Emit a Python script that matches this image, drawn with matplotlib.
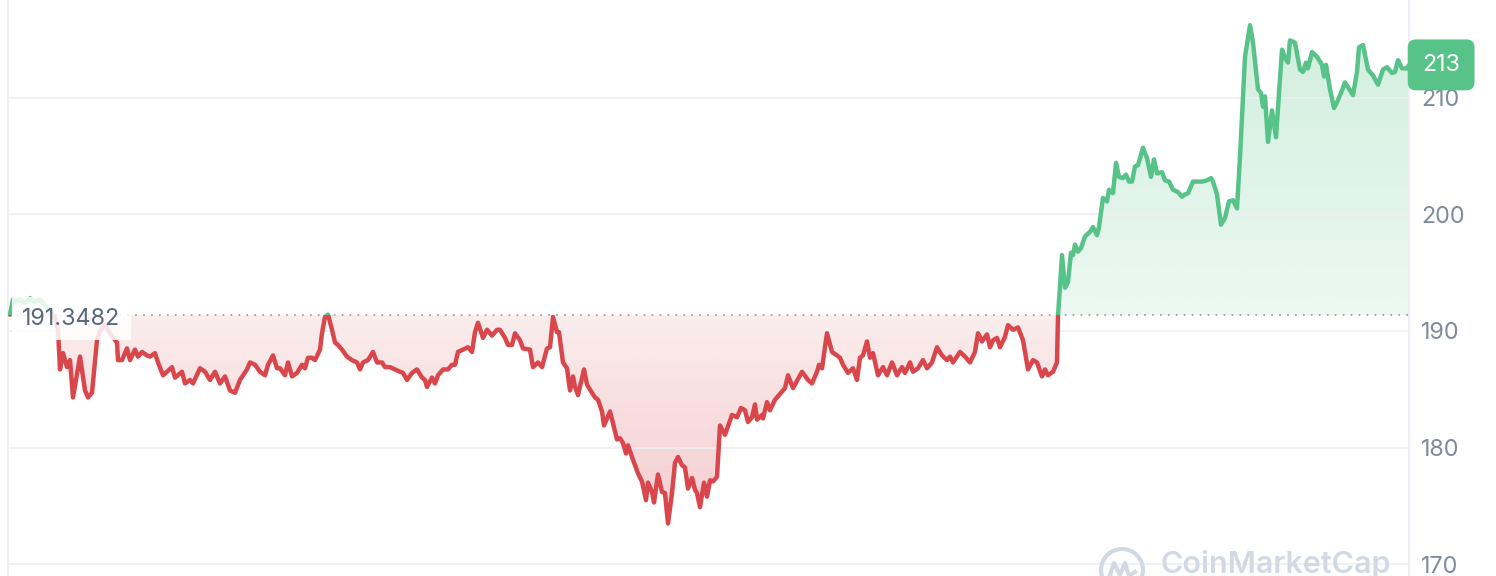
import numpy as np
import matplotlib.pyplot as plt
from matplotlib.patches import Rectangle, Circle
from matplotlib.path import Path
from matplotlib.colors import to_rgb

plt.rcParams['font.family'] = ['Inter', 'DejaVu Sans']

# minutes since start of the day, price in USD
minutes = [0, 3, 5, 10, 15, 20, 25, 30, 35, 40, 45, 48, 50, 53, 57, 60, 63, 70, 75, 78,
           82, 87, 90, 95, 100, 107, 108, 112, 117, 120, 125, 128, 132, 137, 140, 145, 148, 153, 157, 162,
           165, 172, 175, 180, 183, 190, 195, 200, 205, 210, 215, 220, 225, 230, 237, 240, 245, 250, 255, 258,
           263, 267, 270, 275, 278, 282, 287, 292, 295, 298, 302, 305, 310, 312, 315, 318, 322, 325, 328, 332,
           337, 342, 347, 350, 353, 358, 363, 367, 372, 375, 380, 385, 390, 393, 397, 402, 407, 412, 415, 417,
           422, 425, 428, 433, 438, 442, 445, 448, 453, 458, 462, 465, 468, 473, 477, 482, 487, 490, 495, 498,
           502, 505, 510, 513, 520, 523, 528, 532, 537, 540, 543, 547, 549, 553, 557, 560, 563, 565, 568, 574,
           577, 582, 585, 588, 592, 594, 600, 603, 607, 610, 613, 616, 618, 622, 625, 628, 632, 636, 638, 642,
           644, 648, 652, 655, 658, 662, 665, 668, 672, 675, 678, 682, 685, 687, 690, 694, 697, 700, 703, 707,
           710, 715, 722, 727, 731, 735, 738, 742, 745, 747, 752, 753, 757, 760, 765, 772, 775, 778, 783, 792,
           798, 802, 807, 809, 812, 817, 822, 827, 830, 833, 838, 843, 847, 850, 853, 857, 860, 863, 868, 873,
           877, 882, 887, 892, 895, 900, 903, 908, 913, 917, 922, 927, 932, 937, 940, 943, 950, 955, 960, 965,
           968, 972, 977, 980, 983, 987, 990, 995, 998, 1003, 1008, 1013, 1018, 1023, 1027, 1032, 1035, 1038, 1043, 1047,
           1048, 1050, 1052, 1055, 1058, 1061, 1063, 1065, 1068, 1071, 1075, 1080, 1083, 1087, 1089, 1093, 1097, 1099, 1103, 1106,
           1109, 1113, 1116, 1119, 1122, 1125, 1128, 1133, 1137, 1141, 1144, 1147, 1152, 1155, 1159, 1163, 1168, 1172, 1175, 1178,
           1183, 1187, 1192, 1197, 1201, 1203, 1207, 1211, 1215, 1219, 1223, 1227, 1229, 1230, 1235, 1240, 1243, 1248, 1251, 1253,
           1255, 1258, 1262, 1266, 1272, 1275, 1278, 1280, 1285, 1290, 1293, 1296, 1298, 1302, 1307, 1312, 1314, 1316, 1320, 1324,
           1327, 1331, 1335, 1338, 1343, 1347, 1349, 1353, 1358, 1363, 1368, 1373, 1377, 1382, 1385, 1388, 1392, 1397, 1399]
price = [191.4, 192.7, 192.5, 192.7, 192.4, 192.8, 192.5, 192.7, 192.2, 191.8, 191.1, 190.1, 186.7, 188.1, 186.9, 187.5, 184.3, 187.8, 184.9, 184.3,
         184.7, 189.2, 190.0, 190.5, 189.8, 189.0, 187.5, 187.5, 188.5, 187.5, 188.4, 187.8, 188.2, 187.9, 187.8, 188.1, 187.3, 186.2, 186.5, 186.9,
         186.0, 186.5, 185.5, 185.8, 185.5, 186.8, 186.5, 185.8, 186.5, 185.5, 186.1, 184.9, 184.7, 185.8, 186.7, 187.3, 187.1, 186.5, 186.2, 187.1,
         187.9, 186.8, 186.8, 186.2, 187.3, 186.1, 186.4, 187.1, 186.8, 187.7, 187.7, 187.5, 188.4, 189.8, 191.2, 191.4, 190.1, 189.0, 188.8, 188.4,
         187.8, 187.5, 187.3, 186.7, 187.3, 187.5, 188.2, 187.3, 187.3, 186.9, 186.9, 186.7, 186.5, 186.4, 185.8, 186.4, 186.7, 186.0, 185.8, 185.2,
         186.0, 185.5, 186.2, 186.7, 186.7, 187.1, 187.1, 188.2, 188.4, 188.6, 188.2, 189.9, 190.7, 189.4, 190.1, 189.6, 190.1, 190.1, 189.4, 188.8,
         188.8, 189.8, 189.2, 188.5, 188.4, 186.9, 187.3, 186.9, 188.5, 188.6, 191.2, 189.9, 189.9, 187.3, 186.8, 184.9, 186.1, 185.2, 184.5, 186.7,
         185.4, 184.7, 184.3, 184.1, 183.1, 181.9, 183.1, 182.1, 180.7, 180.8, 180.4, 179.5, 180.2, 179.2, 178.5, 177.8, 177.1, 175.5, 177.0, 176.2,
         175.3, 177.7, 176.2, 176.1, 173.5, 176.1, 178.7, 179.2, 178.5, 178.3, 176.5, 177.4, 176.4, 176.1, 174.9, 177.0, 175.8, 177.2, 177.1, 177.5,
         181.9, 181.1, 182.8, 182.6, 183.4, 183.2, 182.2, 182.6, 183.7, 182.4, 182.8, 182.5, 183.9, 183.2, 184.1, 184.8, 185.1, 186.2, 185.1, 186.5,
         185.8, 185.5, 186.5, 187.1, 186.8, 189.8, 188.2, 187.9, 187.7, 187.1, 186.4, 186.8, 185.8, 187.7, 187.9, 189.1, 187.7, 188.1, 186.2, 186.9,
         186.2, 187.3, 186.2, 186.9, 186.4, 187.3, 186.5, 186.8, 187.5, 186.8, 187.3, 188.6, 187.9, 187.5, 187.8, 187.3, 188.2, 187.8, 187.3, 188.2,
         189.8, 189.1, 189.7, 188.6, 189.2, 189.4, 188.6, 189.5, 190.5, 190.1, 190.3, 189.2, 186.7, 187.5, 187.3, 186.1, 186.7, 186.2, 186.5, 187.3,
         191.3, 193.8, 196.5, 193.7, 194.2, 196.7, 196.5, 197.4, 196.8, 197.1, 198.1, 198.5, 198.9, 198.2, 198.9, 201.4, 201.1, 202.1, 201.8, 204.4,
         203.2, 203.1, 203.4, 202.8, 202.8, 204.1, 204.2, 205.7, 204.8, 203.2, 204.7, 203.5, 203.6, 202.9, 202.8, 202.1, 201.9, 201.5, 201.7, 201.8,
         202.8, 202.8, 202.8, 202.9, 203.1, 202.8, 201.7, 199.1, 199.7, 201.1, 201.2, 200.5, 203.5, 204.9, 213.5, 216.2, 214.7, 210.7, 210.4, 209.2,
         210.1, 206.2, 208.9, 206.6, 214.1, 213.4, 213.0, 214.9, 214.7, 212.4, 212.2, 213.0, 212.5, 213.9, 213.5, 212.8, 211.8, 212.8, 210.7, 209.1,
         209.6, 210.4, 211.3, 210.9, 210.2, 212.2, 214.3, 214.5, 212.4, 211.9, 211.1, 212.4, 212.6, 212.1, 212.2, 213.2, 212.5, 212.5, 212.8]
base = 191.3482
yticks = [170, 180, 190, 200, 210]

red = '#d9464b'
green = '#58c388'
grid_c = '#eceff3'
fs = 16.8

t = np.array(minutes)
p = np.array(price)

fig = plt.figure(figsize=(14.96, 5.76), dpi=100)
ax = fig.add_axes([8/1496, 0, 1401/1496, 1])


def gradient(color, y0, y1, a0, a1, above):
    fb = ax.fill_between(t, p, base, where=(p >= base) if above else (p <= base),
                         interpolate=True, color='none', lw=0)
    clip = Path.make_compound_path(*fb.get_paths())
    rgba = np.zeros((256, 1, 4))
    rgba[:, 0, :3] = to_rgb(color)
    rgba[:, 0, 3] = np.linspace(a0, a1, 256)
    im = ax.imshow(rgba, extent=[t[0], t[-1], y0, y1], origin='lower',
                   aspect='auto', zorder=1, interpolation='bilinear')
    im.set_clip_path(clip, transform=ax.transData)


gradient(red, p.min(), base, 0.27, 0.10, False)
gradient(green, base, p.max(), 0.11, 0.28, True)

ax.set_xlim(-2, 1399)
ax.set_ylim(169.0, 218.36)

lg, = ax.plot(t, p, color=green, lw=3.2, solid_joinstyle='round', solid_capstyle='round', zorder=3)
lg.set_clip_path(Rectangle((-100, base), 2000, 100, transform=ax.transData))
lr, = ax.plot(t, p, color=red, lw=3.2, solid_joinstyle='round', solid_capstyle='round', zorder=3)
lr.set_clip_path(Rectangle((-100, base - 100), 2000, 100, transform=ax.transData))

ax.axhline(base, color='#9aa3b2', lw=1.3, ls=(0, (1, 3.4)), zorder=2)

ax.set_yticks(yticks)
ax.set_xticks([])
ax.yaxis.tick_right()
ax.tick_params(axis='y', length=0, pad=8.6, labelsize=fs, labelcolor='#808a9d')
ax.grid(axis='y', color=grid_c, lw=1.2, zorder=0)
for s in ['top', 'bottom']:
    ax.spines[s].set_visible(False)
for s in ['left', 'right']:
    ax.spines[s].set_color(grid_c)
    ax.spines[s].set_linewidth(1.5)

ax.text(12, base - 0.3, '191.3482', ha='left', va='center', fontsize=fs, color='#58667e', zorder=5,
        bbox=dict(boxstyle='square,pad=0.45', fc='white', ec='none', alpha=0.85))

ax.annotate('213', xy=(1, p[-1]), xycoords=('axes fraction', 'data'),
            xytext=(9.5, 0), textcoords='offset points', ha='left', va='center',
            fontsize=fs, color='white', zorder=10, annotation_clip=False,
            bbox=dict(boxstyle='round,pad=0.62,rounding_size=0.35', fc=green, ec='none'))

# watermark
wm = '#d3d9e3'
fig.text(1160/1496, 3/576, 'CoinMarketCap', fontsize=22, color=wm, fontweight='semibold',
         ha='left', va='baseline')
fig.add_artist(Circle((11.22, 0.06), 0.21, transform=fig.dpi_scale_trans,
                      fill=False, ec=wm, lw=3))
wx = np.array([-0.13, -0.08, -0.02, 0.03, 0.07, 0.13]) + 11.22
wy = np.array([-0.08, 0.07, -0.05, 0.07, -0.06, -0.02]) + 0.06
fig.add_artist(plt.Line2D(wx, wy, transform=fig.dpi_scale_trans, color=wm, lw=3,
                          solid_joinstyle='round'))

plt.savefig('out.png', dpi=100)
